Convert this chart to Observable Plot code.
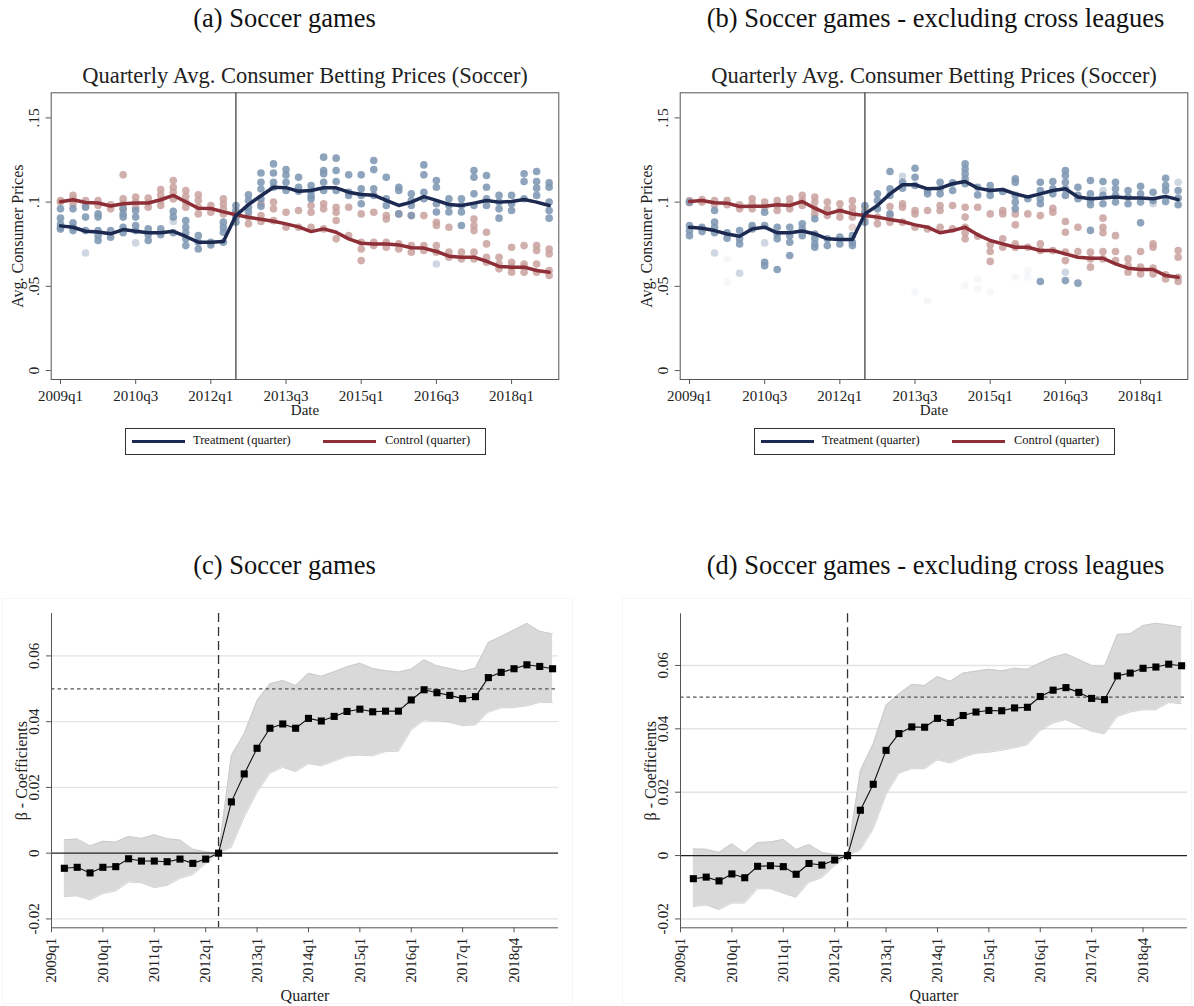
<!DOCTYPE html>
<html><head><meta charset="utf-8">
<script src="https://cdn.jsdelivr.net/npm/d3@7"></script>
<script src="https://cdn.jsdelivr.net/npm/@observablehq/plot@0.6"></script>
<style>
body{margin:0;background:#fff;}
#root{position:relative;width:1194px;height:1006px;overflow:hidden;font-family:"Liberation Serif",serif;color:#111;background:#fff;}
.abs{position:absolute;}
.ptitle{position:absolute;width:600px;text-align:center;font-size:26.5px;line-height:26px;white-space:nowrap;}
.legend{position:absolute;width:361px;height:27px;border:1px solid #333;box-sizing:border-box;font-size:12.5px;}
.legend .sw{position:absolute;top:11px;width:53px;height:3px;}
.legend .lt{position:absolute;top:4px;white-space:nowrap;}
.region{position:absolute;border:1px solid #f6f6f6;box-sizing:border-box;}
</style></head><body><div id="root"></div>
<script>
// ---------------- DATA ----------------
const quarterLabels = ["2009q1","2009q2","2009q3","2009q4","2010q1","2010q2","2010q3","2010q4",
"2011q1","2011q2","2011q3","2011q4","2012q1","2012q2","2012q3","2012q4","2013q1","2013q2","2013q3","2013q4",
"2014q1","2014q2","2014q3","2014q4","2015q1","2015q2","2015q3","2015q4","2016q1","2016q2","2016q3","2016q4",
"2017q1","2017q2","2017q3","2017q4","2018q1","2018q2","2018q3","2018q4"];
const topTickIdx = [0,6,12,18,24,30,36];
const topYTicks = [0,0.05,0.1,0.15];
const topYLabels = ["0",".05",".1",".15"];
const botTickIdx = [0,4,8,12,16,20,24,28,32,36];
const botTickLabels = ["2009q1","2010q1","2011q1","2012q1","2013q1","2014q1","2015q1","2016q1","2017q1","2018q4"];
const botYTicks = [-0.02,0,0.02,0.04,0.06];
const botYLabels = ["-0.02","0","0.02","0.04","0.06"];
const treatmentStartIdx = 14;   // 2012q3 (top panels)
const eventIdx = 13;            // 2012q2 (bottom panels)
const threshold = 0.05;

// Panel (a)
const aTreatLine = [0.0859,0.0851,0.0827,0.0823,0.0812,0.0837,0.0827,0.0818,0.0818,0.0827,
0.0796,0.0762,0.0762,0.0766,0.092,0.0985,0.1038,0.1088,0.1086,0.1064,
0.1069,0.1085,0.1085,0.1059,0.1045,0.1041,0.101,0.098,0.1,0.1033,
0.101,0.0986,0.098,0.0994,0.101,0.1,0.1004,0.1016,0.1,0.098];
const aCtrlLine = [0.1002,0.1014,0.0998,0.0995,0.0977,0.099,0.0995,0.0995,0.1014,0.104,
0.1002,0.0964,0.0962,0.0942,0.0925,0.091,0.0898,0.0886,0.0871,0.0853,
0.0825,0.0841,0.0821,0.0782,0.0756,0.0752,0.0752,0.0746,0.0729,0.0727,
0.0707,0.0679,0.0673,0.0673,0.0649,0.0618,0.0614,0.0614,0.0594,0.0584];
const aTreatDots = [
[0.096,0.0905,0.087,0.085,0.084],[0.096,0.0877,0.085,0.0831],[0.097,0.0911,0.0831],[0.093,0.0911,0.0831,0.0801,0.0772],
[0.0831,0.0792],[0.096,0.093,0.0911,0.0851,0.0818],[0.095,0.0911,0.0861,0.0831],[0.0841,0.0806,0.0772],
[0.0841,0.0806],[0.0945,0.0911,0.0818],[0.089,0.0851,0.0818,0.0782,0.0742],[0.0801,0.0762,0.0722],
[0.0762,0.0746],[0.0881,0.0851,0.0821,0.0762],[0.098,0.095,0.0911,0.0881],[0.1043,0.101,0.097,0.0941],
[0.1173,0.1118,0.1078,0.1019,0.0975],[0.1227,0.1173,0.1118,0.1088],[0.1193,0.1161,0.1118,0.1069],[0.1148,0.1088,0.1065],
[0.1099,0.1069,0.104,0.102],[0.1267,0.1188,0.1168,0.1118,0.1069],[0.1261,0.1188,0.1122,0.1069],[0.1162,0.1059,0.104],
[0.1162,0.1079,0.104,0.099],[0.1247,0.1193,0.1079,0.104],[0.1148,0.102,0.098],[0.1088,0.1069,0.093],
[0.1049,0.1009,0.098,0.092],[0.1221,0.1162,0.1059,0.102],[0.1128,0.1088,0.099,0.0941],[0.102,0.098,0.0941],
[0.102,0.098,0.0941,0.0861],[0.1188,0.1148,0.1049,0.098],[0.1158,0.1088,0.102,0.098],[0.104,0.1,0.096,0.0905],
[0.104,0.099,0.095],[0.1168,0.1122,0.102],[0.1182,0.1122,0.1083,0.104],[0.1114,0.1088,0.1,0.095,0.0905]];
const aCtrlDots = [
[0.1009,0.1],[0.104,0.1015,0.099],[0.1009,0.098],[0.1009,0.098],
[0.0984,0.096],[0.1162,0.1019,0.099,0.0964],[0.103,0.1,0.097],[0.1024,0.0996,0.097],
[0.1075,0.1043,0.1009,0.098],[0.1128,0.1088,0.1059,0.1019],[0.1069,0.1035,0.1,0.097],[0.1043,0.1009,0.097,0.093],
[0.098,0.094],[0.1019,0.099,0.096,0.093],[0.094,0.091],[0.0911,0.0871],
[0.099,0.092,0.0885],[0.1,0.096,0.089],[0.094,0.0851],[0.095,0.0851],
[0.098,0.094,0.0851],[0.099,0.096,0.0841],[0.097,0.094,0.0891,0.0782],[0.097,0.0801],
[0.093,0.0762,0.0722,0.0653],[0.094,0.0762,0.0742],[0.092,0.09,0.0762,0.0732],[0.093,0.0752,0.0722],
[0.092,0.0742,0.0703],[0.092,0.0742,0.0713],[0.088,0.0861,0.0742,0.0703],[0.0851,0.0703,0.0673],
[0.0703,0.0663],[0.09,0.0861,0.0831,0.0703,0.0663],[0.0821,0.0752,0.0673,0.0643],[0.0673,0.0633,0.0604],
[0.0732,0.0643,0.0614,0.0584],[0.0742,0.0633,0.0614,0.0584],[0.0742,0.0713,0.0633,0.0584],[0.0722,0.0693,0.0594,0.0564]];
// leagues with few games (quarter index, value)
const aTreatSparse = [[2,0.0698],[6,0.0758],[9,0.0885],[30,0.0633]];
const aTreatFaint = [];
const aCtrlSparse = [];

// Panel (b)
const bTreatLine = [0.0851,0.0845,0.0831,0.0811,0.0797,0.0841,0.0851,0.0818,0.0818,0.0829,
0.0811,0.0782,0.0778,0.0778,0.093,0.098,0.1049,0.1103,0.1103,0.1079,
0.1083,0.1109,0.1122,0.1083,0.1069,0.1075,0.1049,0.103,0.1049,0.1069,
0.1079,0.103,0.102,0.1024,0.103,0.1024,0.1024,0.102,0.1034,0.1015];
const bCtrlLine = [0.1004,0.101,0.0996,0.0994,0.0974,0.0976,0.0976,0.0984,0.098,0.1004,
0.0964,0.093,0.095,0.093,0.092,0.0911,0.0897,0.0885,0.0865,0.0851,
0.0818,0.0831,0.0851,0.0806,0.0772,0.0752,0.0732,0.0732,0.0713,0.0713,
0.0693,0.0673,0.0667,0.0667,0.0633,0.0608,0.06,0.06,0.0564,0.0554];
const bTreatDots = [
[0.1,0.0861,0.0831,0.0801],[0.0851,0.0825],[0.095,0.0881,0.0851,0.0818],[0.0818,0.0786],
[0.0831,0.0782,0.0752],[0.0861,0.0841],[0.094,0.0861,0.0643,0.0623],[0.0851,0.0811,0.0782,0.06],
[0.0851,0.0801,0.0762,0.0683],[0.0871,0.0841,0.0801],[0.0901,0.0811,0.0782,0.0752,0.0732],[0.0782,0.0742],
[0.0792,0.0752],[0.0801,0.0762,0.0742],[0.098,0.094,0.0881],[0.1049,0.1009,0.096],
[0.1182,0.1079,0.104,0.093],[0.1118,0.1083],[0.1201,0.1148,0.1099],[0.1069,0.1049],
[0.1118,0.1079,0.1049],[0.1114,0.1069],[0.1227,0.1197,0.1168,0.1138,0.1109],[0.1088,0.1043],
[0.1099,0.1069,0.104],[0.1063],[0.1138,0.1118,0.104,0.1,0.096],[0.102],
[0.1118,0.1069,0.102,0.099,0.0529],[0.1122,0.1079,0.1049],[0.1188,0.1158,0.1118,0.1079,0.104,0.0534],[0.1088,0.104,0.102,0.0519],
[0.1128,0.1049,0.1009,0.0984,0.0832],[0.1122,0.104,0.099],[0.1118,0.1079,0.104,0.1],[0.1069,0.103,0.099],
[0.1094,0.1049,0.1,0.0877],[0.1059,0.1009],[0.1142,0.1099,0.1069,0.1003],[0.1069,0.1024,0.0984]];
const bCtrlDots = [
[0.101,0.0996],[0.1015,0.1],[0.101,0.0984],[0.101,0.0984],
[0.0984,0.096],[0.102,0.099,0.096],[0.1,0.097],[0.101,0.098,0.095],
[0.102,0.099,0.096],[0.104,0.101,0.098],[0.103,0.1,0.096,0.093],[0.1,0.096,0.092],
[0.099,0.095,0.0911],[0.101,0.097,0.094,0.0911],[0.097,0.094,0.0911],[0.0911,0.0871],
[0.0974,0.092,0.0881],[0.099,0.097,0.0881],[0.095,0.093,0.0851],[0.095,0.0841],
[0.098,0.095,0.0851],[0.098,0.0841],[0.097,0.0911,0.0851,0.0818,0.0782],[0.097,0.0797],
[0.093,0.0747,0.0707,0.0648],[0.095,0.093,0.0782,0.0732],[0.093,0.0865,0.0752,0.0732],[0.093,0.0732],
[0.092,0.0752,0.0713],[0.0964,0.094,0.0713],[0.0885,0.0821,0.0703,0.0653],[0.0851,0.0707],
[0.0703,0.0663,0.0614],[0.0905,0.0851,0.0818,0.0707,0.0663],[0.0801,0.0707,0.0653],[0.0663,0.0623,0.0584],
[0.0707,0.0614,0.0574],[0.0752,0.0732,0.0608,0.0574],[0.0568,0.0544],[0.0713,0.0673,0.0554,0.0529]];
const bTreatSparse = [[2,0.0698],[4,0.0578],[6,0.0758],[17,0.1154],[30,0.0584],[33,0.1069],[37,0.099],[39,0.1118]];
const bTreatFaint = [[3,0.0663],[3,0.0524],[18,0.0466],[19,0.0415],[22,0.0505],[23,0.0544],[23,0.0485],[24,0.0466],[26,0.0554],[27,0.0594],[27,0.0554]];
const bCtrlSparse = [[13,0.0851]];

// Panel (c): coefficients 2009q2..2018q4 (quarter index 1..39)
const cCoef = [-0.0046,-0.0043,-0.006,-0.0043,-0.0041,-0.0017,-0.0024,-0.0024,-0.0026,-0.0018,-0.0031,-0.0018,0,
0.0156,0.0241,0.0319,0.038,0.0393,0.038,0.041,0.0402,0.0416,0.0431,0.0438,0.043,0.0432,0.0432,
0.0466,0.0497,0.0488,0.048,0.047,0.0476,0.0534,0.055,0.0561,0.0573,0.0568,0.0561];
const cUpper = [0.0041,0.0043,0.0022,0.0036,0.0034,0.0051,0.0045,0.0056,0.0044,0.004,0.0012,0.0004,0,
0.0297,0.0363,0.0464,0.0515,0.0525,0.051,0.0547,0.0538,0.0552,0.0567,0.0578,0.0562,0.0555,0.0551,
0.056,0.0588,0.057,0.0562,0.0553,0.0563,0.0641,0.0659,0.0679,0.0699,0.0675,0.0667];
const cLower = [-0.0132,-0.013,-0.0142,-0.0123,-0.0115,-0.0088,-0.009,-0.0105,-0.0098,-0.0077,-0.0065,-0.0032,0,
0.0018,0.011,0.0185,0.0243,0.0261,0.0248,0.0272,0.0266,0.028,0.0295,0.0298,0.0296,0.0309,0.031,
0.0375,0.0405,0.0403,0.0398,0.0388,0.039,0.0429,0.0442,0.0443,0.0448,0.0459,0.0458];
// Panel (d)
const dCoef = [-0.0073,-0.0068,-0.008,-0.0058,-0.007,-0.0034,-0.0032,-0.0035,-0.0059,-0.0025,-0.003,-0.0014,0,
0.0143,0.0225,0.0332,0.0385,0.0406,0.0405,0.0433,0.042,0.0442,0.0453,0.0458,0.0457,0.0466,0.0468,
0.0502,0.0522,0.053,0.0515,0.0496,0.0492,0.0567,0.0576,0.0591,0.0595,0.0604,0.0599];
const dUpper = [0.0021,0.002,0.001,0.0037,0.0008,0.0041,0.0043,0.0051,0.0019,0.0035,0.001,0.0003,0,
0.0268,0.0353,0.0474,0.051,0.054,0.0537,0.0565,0.055,0.0576,0.0582,0.0588,0.0583,0.0591,0.0588,
0.0608,0.0626,0.0637,0.0619,0.06,0.0597,0.0698,0.07,0.0726,0.0733,0.0728,0.0721];
const dLower = [-0.0161,-0.0156,-0.0171,-0.015,-0.015,-0.0105,-0.0105,-0.0119,-0.0132,-0.0084,-0.007,-0.0032,0,
0.0018,0.0084,0.0193,0.026,0.0274,0.0274,0.0302,0.0292,0.031,0.0323,0.0326,0.0332,0.034,0.035,
0.0395,0.0418,0.0429,0.041,0.0392,0.0384,0.0439,0.0453,0.046,0.046,0.0483,0.0479];

// ---------------- STYLE ----------------
const FONT = '"Liberation Serif", serif';
const NAVY = "#1c2a52", RED = "#8e2e37";
const TDOT = "#7e97b3", CDOT = "#c9a19d";
const root = document.getElementById("root");

function place(el, left, top) {
  el.style.position = "absolute"; el.style.left = left + "px"; el.style.top = top + "px";
  root.appendChild(el); return el;
}
function title(text, center, top) {
  const d = document.createElement("div"); d.className = "ptitle"; d.textContent = text;
  d.style.left = (center - 300) + "px"; d.style.top = top + "px"; root.appendChild(d);
}
function legend(left, top) {
  const d = document.createElement("div"); d.className = "legend";
  d.style.left = left + "px"; d.style.top = top + "px";
  d.innerHTML = `<span class="sw" style="left:6px;background:${NAVY}"></span><span class="lt" style="left:67px">Treatment (quarter)</span>
  <span class="sw" style="left:197px;background:${RED}"></span><span class="lt" style="left:259px">Control (quarter)</span>`;
  root.appendChild(d);
}

function topPanel(tl, cl, td, cd, tSparse, tFaint, cSparse) {
  const dotsT = td.flatMap((vals, q) => vals.map(v => ({q, v})));
  const dotsC = cd.flatMap((vals, q) => vals.map(v => ({q, v})));
  const pairs = arr => arr.map(([q, v]) => ({q, v}));
  const lineT = tl.map((v, q) => ({q, v}));
  const lineC = cl.map((v, q) => ({q, v}));
  return Plot.plot({
    width: 575, height: 365, marginLeft: 50.7, marginRight: 16.7, marginTop: 32.3, marginBottom: 46,
    x: {domain: [-0.742, 39.77]}, y: {domain: [-0.0053, 0.1649]},
    style: {fontFamily: FONT, fontSize: "15px", background: "transparent", color: "#222", overflow: "visible"},
    marks: [
      Plot.dot(dotsC, {x: "q", y: "v", r: 3.8, fill: CDOT, fillOpacity: 0.85}),
      Plot.dot(pairs(cSparse), {x: "q", y: "v", r: 3.8, fill: CDOT, fillOpacity: 0.45}),
      Plot.dot(dotsT, {x: "q", y: "v", r: 3.8, fill: TDOT, fillOpacity: 0.88}),
      Plot.dot(pairs(tSparse), {x: "q", y: "v", r: 3.8, fill: TDOT, fillOpacity: 0.38}),
      Plot.dot(pairs(tFaint), {x: "q", y: "v", r: 3.8, fill: TDOT, fillOpacity: 0.08}),
      Plot.ruleX([treatmentStartIdx], {stroke: "#333", strokeWidth: 1.2}),
      Plot.line(lineC, {x: "q", y: "v", stroke: RED, strokeWidth: 3.5}),
      Plot.line(lineT, {x: "q", y: "v", stroke: NAVY, strokeWidth: 3.5}),
      Plot.frame({stroke: "#555"}),
      Plot.axisX(topTickIdx, {tickSize: 5, tickPadding: 6, tickFormat: i => quarterLabels[i], fontSize: 15, label: null, stroke: "#555"}),
      Plot.axisY(topYTicks, {tickSize: 5, tickFormat: () => "", label: null, stroke: "#555"}),
      Plot.text(topYTicks, {y: d => d, frameAnchor: "left", text: (d, i) => topYLabels[i], rotate: -90, dx: -12, lineAnchor: "bottom", textAnchor: "middle", fontSize: 15.5}),
      Plot.text(["Avg. Consumer Prices"], {frameAnchor: "left", dx: -33, rotate: -90, lineAnchor: "middle", textAnchor: "middle", fontSize: 16}),
      Plot.text(["Date"], {frameAnchor: "bottom", dy: 31, lineAnchor: "middle", fontSize: 15}),
      Plot.text(["Quarterly Avg. Consumer Betting Prices (Soccer)"], {frameAnchor: "top", dy: -17.3, lineAnchor: "middle", fontSize: 22.5})
    ]
  });
}

function botPanel(coef, lower, upper, ydom, width, mL, mR, mT) {
  const rows = coef.map((c, i) => ({q: i + 1, c, lo: lower[i], hi: upper[i]}));
  return Plot.plot({
    width, height: 416, marginLeft: mL, marginRight: mR, marginTop: mT, marginBottom: 78.7,
    x: {domain: [0, 39.46]}, y: {domain: ydom},
    style: {fontFamily: FONT, fontSize: "15px", background: "transparent", color: "#222", overflow: "visible"},
    marks: [
      Plot.gridY(botYTicks.filter(d => d !== 0), {stroke: "#e4e4e4", strokeOpacity: 1, strokeWidth: 1.4}),
      Plot.areaY(rows, {x: "q", y1: "lo", y2: "hi", fill: "#d9d9d9"}),
      Plot.line(rows, {x: "q", y: "lo", stroke: "#c8c8c8", strokeWidth: 0.8}),
      Plot.line(rows, {x: "q", y: "hi", stroke: "#c8c8c8", strokeWidth: 0.8}),
      Plot.ruleY([0], {stroke: "#222", strokeWidth: 1.2}),
      Plot.ruleY([threshold], {stroke: "#555", strokeDasharray: "3.5,3", strokeWidth: 1.3}),
      Plot.ruleX([eventIdx], {stroke: "#333", strokeDasharray: "9,5", strokeWidth: 1.3}),
      Plot.line(rows, {x: "q", y: "c", stroke: "#111", strokeWidth: 1.1}),
      Plot.dot(rows, {x: "q", y: "c", symbol: "square", r: 4, fill: "#000"}),
      Plot.ruleX([0], {stroke: "#555"}),
      Plot.ruleY([ydom[0]], {stroke: "#555"}),
      Plot.axisX(botTickIdx, {tickSize: 5, tickFormat: () => "", label: null, stroke: "#555"}),
      Plot.axisY(botYTicks, {tickSize: 5, tickFormat: () => "", label: null, stroke: "#555"}),
      Plot.text(botTickIdx, {x: d => d, frameAnchor: "bottom", text: (d, i) => botTickLabels[i], rotate: -90, textAnchor: "end", lineAnchor: "middle", dy: 10, fontSize: 15}),
      Plot.text(botYTicks, {y: d => d, frameAnchor: "left", text: (d, i) => botYLabels[i], rotate: -90, dx: -13, lineAnchor: "bottom", textAnchor: "middle", fontSize: 15}),
      Plot.text(["β - Coefficients"], {frameAnchor: "left", dx: -30, rotate: -90, lineAnchor: "middle", textAnchor: "middle", fontSize: 16}),
      Plot.text(["Quarter"], {frameAnchor: "bottom", dy: 67.7, lineAnchor: "middle", fontSize: 16})
    ]
  });
}

// ---------------- LAYOUT ----------------
title("(a) Soccer games", 284.5, 5);
title("(b) Soccer games - excluding cross leagues", 935.5, 5);
title("(c) Soccer games", 284.5, 552);
title("(d) Soccer games - excluding cross leagues", 935.5, 552);

place(topPanel(aTreatLine, aCtrlLine, aTreatDots, aCtrlDots, aTreatSparse, aTreatFaint, aCtrlSparse), 0, 60);
place(topPanel(bTreatLine, bCtrlLine, bTreatDots, bCtrlDots, bTreatSparse, bTreatFaint, bCtrlSparse), 629.3, 60);
legend(125, 428);
legend(754, 428);

const rc = document.createElement("div"); rc.className = "region"; rc.style.cssText += "left:2px;top:598px;width:571px;height:406px;"; root.appendChild(rc);
const rd = document.createElement("div"); rd.className = "region"; rd.style.cssText += "left:622px;top:598px;width:570px;height:406px;"; root.appendChild(rd);

place(botPanel(cCoef, cLower, cUpper, [-0.0227, 0.0729], 590, 51, 32, 23), 0, 590);
place(botPanel(dCoef, dLower, dUpper, [-0.0228, 0.0763], 574, 60, 7, 23.3), 620, 590);
</script></body></html>
